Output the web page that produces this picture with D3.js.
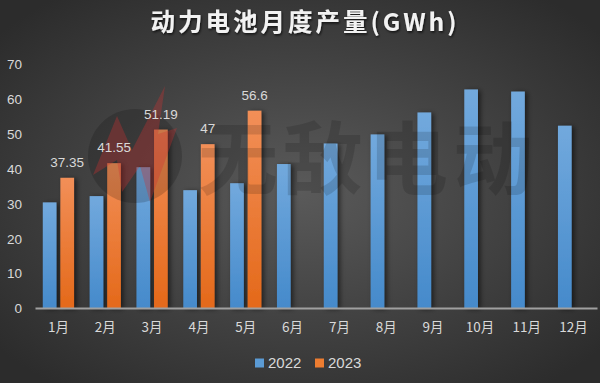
<!DOCTYPE html>
<html><head><meta charset="utf-8">
<script src="https://cdn.jsdelivr.net/npm/d3@7"></script>
<style>html,body{margin:0;padding:0;background:#3a3a3a;}svg{display:block;}</style>
</head><body>
<svg id="chart" width="600" height="383"></svg>
<script>
const months = ["1月","2月","3月","4月","5月","6月","7月","8月","9月","10月","11月","12月"];
const seriesNames = ["2022","2023"];
const values2022 = [30.3, 32.1, 40.4, 33.8, 35.8, 41.3, 47.2, 49.8, 56.1, 62.7, 62.1, 52.3];
const values2023 = [37.35, 41.55, 51.19, 47, 56.6];
const yTicks = [0,10,20,30,40,50,60,70];
const title = "动力电池月度产量(GWh)";
const watermark = ["无","敌","电","动"];

const W = 600, H = 383;
const svg = d3.select("#chart");
const defs = svg.append("defs");

const bg = defs.append("radialGradient").attr("id","bg").attr("cx","50%").attr("cy","50%").attr("r","65%");
bg.append("stop").attr("offset","0%").attr("stop-color","#5a5a5a");
bg.append("stop").attr("offset","100%").attr("stop-color","#2c2c2c");

const gb = defs.append("linearGradient").attr("id","gBlue").attr("x1",0).attr("y1",0).attr("x2",0).attr("y2",1);
gb.append("stop").attr("offset","0%").attr("stop-color","#72a9dd");
gb.append("stop").attr("offset","100%").attr("stop-color","#458acb");
const go = defs.append("linearGradient").attr("id","gOrange").attr("x1",0).attr("y1",0).attr("x2",0).attr("y2",1);
go.append("stop").attr("offset","0%").attr("stop-color","#f28f58");
go.append("stop").attr("offset","100%").attr("stop-color","#e4691a");

const sh = defs.append("filter").attr("id","shadow").attr("x","-50%").attr("y","-10%").attr("width","200%").attr("height","120%");
sh.append("feDropShadow").attr("dx",2.5).attr("dy",1).attr("stdDeviation",2.5).attr("flood-color","#000").attr("flood-opacity",0.55);
const tsh = defs.append("filter").attr("id","tshadow");
tsh.append("feDropShadow").attr("dx",1).attr("dy",1.5).attr("stdDeviation",1).attr("flood-color","#000").attr("flood-opacity",0.7);

svg.append("rect").attr("width",W).attr("height",H).attr("fill","url(#bg)");

const x = d3.scaleBand().domain(months).range([35, 597]).paddingInner(0).paddingOuter(0);
const xs = d3.scaleBand().domain(seriesNames).range([0, x.bandwidth()]).paddingInner(0.222).paddingOuter(0.444);
const y = d3.scaleLinear().domain([0,70]).range([308, 64]);
const color = {"2022":"url(#gBlue)","2023":"url(#gOrange)"};
const solid = {"2022":"#5b9bd5","2023":"#ed7d31"};

// title
svg.append("text").attr("x",305).attr("y",31).attr("text-anchor","middle")
  .attr("font-family","'Noto Sans CJK SC','Noto Sans',sans-serif").attr("font-weight","bold")
  .attr("font-size",24.5).attr("letter-spacing",3).attr("fill","#f2f2f2").attr("filter","url(#tshadow)").text(title);

// y axis
const yAxis = svg.append("g").attr("transform","translate(22,0)")
  .call(d3.axisLeft(y).tickValues(yTicks).tickSize(0).tickPadding(0));
yAxis.select(".domain").remove();
yAxis.selectAll("text").attr("font-family","'Liberation Sans',sans-serif").attr("font-size",13.5).attr("fill","#d9d9d9").attr("dy","0.35em");

// bars
const data = [];
months.forEach((m,i)=>{
  data.push({m, s:"2022", v:values2022[i]});
  if (values2023[i] !== undefined) data.push({m, s:"2023", v:values2023[i]});
});
const bars = svg.append("g").attr("filter","url(#shadow)");
bars.selectAll("rect").data(data).join("rect")
  .attr("x",d=>x(d.m)+xs(d.s)).attr("width",xs.bandwidth())
  .attr("y",d=>y(d.v)).attr("height",d=>y(0)-y(d.v))
  .attr("fill",d=>color[d.s]);

// x axis
const xAxis = svg.append("g").attr("transform","translate(0,308)")
  .call(d3.axisBottom(x).tickSize(0).tickPadding(14));
xAxis.select(".domain").attr("stroke","#a0a0a0").attr("stroke-width",2);
xAxis.selectAll("text").attr("font-family","'Noto Sans CJK SC','Liberation Sans',sans-serif").attr("font-size",13.5).attr("fill","#d9d9d9");

// watermark (drawn over bars, under labels)
const wm = svg.append("g");
wm.append("circle").attr("cx",135).attr("cy",156).attr("r",47).attr("fill","rgba(0,0,0,0.17)");
wm.append("path").attr("d","M93,175 L117,116 L132,150 L165,86 L158,134 L177,128 L150,202 L140,166 L122,192 L117,160 Z")
  .attr("fill","rgba(205,50,50,0.33)");
wm.selectAll("text.wm").data(watermark).join("text").attr("class","wm")
  .attr("x",(d,i)=>238+i*85).attr("y",188).attr("text-anchor","middle")
  .attr("font-family","'Noto Sans CJK SC',sans-serif").attr("font-weight","bold")
  .attr("font-size",80).attr("fill","rgba(0,0,0,0.14)").text(d=>d);

// data labels for 2023
svg.append("g").selectAll("text").data(data.filter(d=>d.s==="2023")).join("text")
  .attr("x",d=>x(d.m)+xs(d.s)+xs.bandwidth()/2).attr("y",d=>y(d.v)-11)
  .attr("text-anchor","middle").attr("font-family","'Liberation Sans',sans-serif").attr("font-size",13.5)
  .attr("fill","#d9d9d9").text(d=>d.v);

// legend
const lg = svg.append("g").attr("transform","translate(0,363)");
const litems = [{s:"2022",x:255},{s:"2023",x:315}];
litems.forEach(it=>{
  lg.append("rect").attr("x",it.x).attr("y",-4.5).attr("width",9).attr("height",9).attr("fill",solid[it.s]);
  lg.append("text").attr("x",it.x+13).attr("y",0).attr("dy","0.35em").attr("font-family","'Liberation Sans',sans-serif")
    .attr("font-size",15).attr("fill","#d9d9d9").text(it.s);
});
</script>
</body></html>
